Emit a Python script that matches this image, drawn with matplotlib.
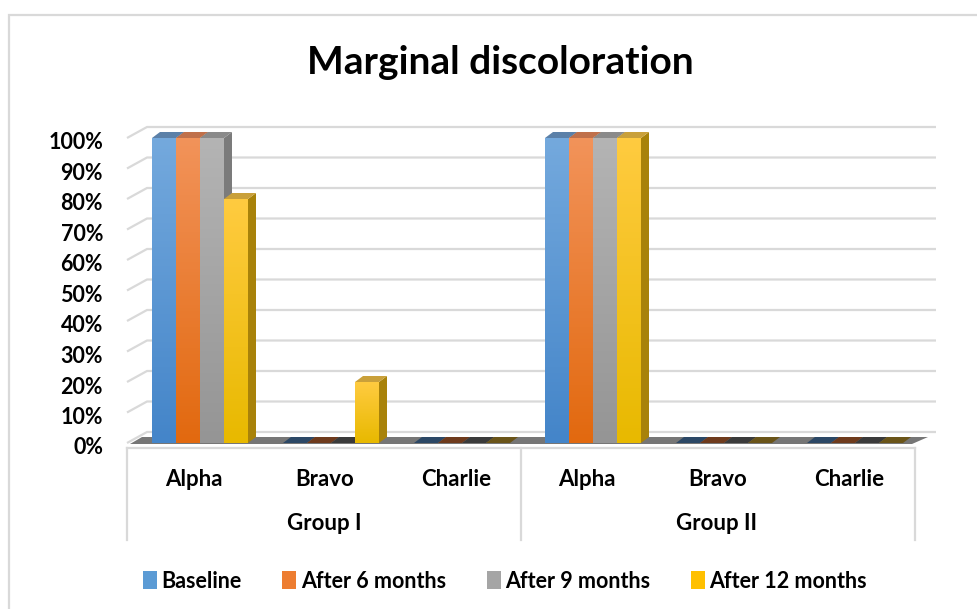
import numpy as np
import matplotlib
matplotlib.use("Agg")
import matplotlib.pyplot as plt
from matplotlib.patches import Polygon, Patch, Rectangle
from matplotlib.colors import LinearSegmentedColormap

plt.rcParams['font.family'] = ['Lato', 'DejaVu Sans']
plt.rcParams['font.weight'] = 'bold'

# data
categories = ["Alpha", "Bravo", "Charlie", "Alpha", "Bravo", "Charlie"]
groups = ["Group I", "Group II"]
series = ["Baseline", "After 6 months", "After 9 months", "After 12 months"]
baseline = [1.00, 0.00, 0.00, 1.00, 0.00, 0.00]
after_6 = [1.00, 0.00, 0.00, 1.00, 0.00, 0.00]
after_9 = [1.00, 0.00, 0.00, 1.00, 0.00, 0.00]
after_12 = [0.80, 0.20, 0.00, 1.00, 0.00, 0.00]
values = [baseline, after_6, after_9, after_12]
yticks = np.arange(0, 1.01, 0.1)

# colours: gradient top / bottom, side face, top face, flat (zero) top
col_top = ["#74a9dd", "#f2935a", "#b4b4b4", "#ffcb40"]
col_bot = ["#4485c9", "#e2690f", "#959595", "#e8b900"]
col_side = ["#3d6e9e", "#b5561a", "#7b7b7b", "#a8820a"]
col_cap = ["#5b80a8", "#c0704a", "#8a8a8a", "#c9a03a"]
col_flat = ["#2c4866", "#6e3a1c", "#3a3a3a", "#6a5418"]
legend_col = ["#5b9bd5", "#ed7d31", "#a5a5a5", "#ffc000"]

W, H = 978, 609
fig = plt.figure(figsize=(W / 100, H / 100), dpi=100)

# pixel geometry: category centre px = 200 + 131*i, value px = 443 - 305*v
px_per_x = 131.0
px_per_y = 305.0
x0_px, y0_px = 200.0, 443.0
L, R, T, B = 100, 960, 100, 460
ax = fig.add_axes([L / W, (H - B) / H, (R - L) / W, (B - T) / H])
ax.set_xlim((L - x0_px) / px_per_x, (R - x0_px) / px_per_x)
ax.set_ylim((y0_px - B) / px_per_y, (y0_px - T) / px_per_y)
ax.axis("off")

def dxu(px):
    return px / px_per_x

def dyu(px):
    return px / px_per_y

# back wall gridlines
gx0 = dxu(127 - x0_px)
for v in yticks:
    ax.plot([gx0, gx0 + dxu(20), dxu(936 - x0_px)],
            [v, v + dyu(11), v + dyu(11)],
            color="#d9d9d9", lw=1.6, zorder=1, solid_capstyle="butt")

# floor slab
fl, fr = dxu(130 - x0_px), dxu(912 - x0_px)
floor = Polygon([[fl, -dyu(1)], [fr, -dyu(1)], [fr + dxu(16), dyu(6)], [fl + dxu(12), dyu(6)]],
                closed=True, facecolor="#5e5e5e", edgecolor="none", alpha=0.85, zorder=2)
ax.add_patch(floor)

# bars
bw = 24.0 / px_per_x
x = np.arange(len(categories))
ddx, ddy = dxu(8), dyu(6)
grad = np.linspace(0, 1, 100).reshape(-1, 1)
for j, vals in enumerate(values):
    xs = x + (j - 1.5) * bw
    cmap = LinearSegmentedColormap.from_list("c%d" % j, [col_bot[j], col_top[j]])
    bars = ax.bar(xs, vals, width=bw, color=col_bot[j], edgecolor="none", zorder=5 + j)
    for xi, v, bar in zip(xs, vals, bars):
        xl, xr = xi - bw / 2, xi + bw / 2
        if v > 0:
            im = ax.imshow(grad, cmap=cmap, origin="lower", aspect="auto",
                           extent=[xl, xr, 0, v], zorder=5 + j + 0.1)
            im.set_clip_path(bar)
            side = Polygon([[xr, 0], [xr + ddx, ddy], [xr + ddx, v + ddy], [xr, v]],
                           closed=True, facecolor=col_side[j], edgecolor="none", zorder=4 + j)
            cap = Polygon([[xl, v], [xr, v], [xr + ddx, v + ddy], [xl + ddx, v + ddy]],
                          closed=True, facecolor=col_cap[j], edgecolor="none", zorder=4 + j)
            ax.add_patch(side)
            ax.add_patch(cap)
        else:
            flat = Polygon([[xl, 0], [xr, 0], [xr + ddx, ddy], [xl + ddx, ddy]],
                           closed=True, facecolor=col_flat[j], edgecolor="none", zorder=4 + j)
            ax.add_patch(flat)

# y tick labels
for v in yticks:
    ax.text(dxu(103 - x0_px), v - dyu(5), "%d%%" % round(v * 100), ha="right", va="center",
            fontsize=15.5, fontweight="bold", color="black", clip_on=False)

# category axis box (pixel coordinates)
def fx(px):
    return px / W

def fy(px):
    return 1 - px / H

line_kw = dict(color="#d9d9d9", lw=1.6, transform=fig.transFigure)
fig.add_artist(plt.Line2D([fx(127), fx(915)], [fy(448), fy(448)], **line_kw))
for xv in [127, 521, 915]:
    fig.add_artist(plt.Line2D([fx(xv), fx(xv)], [fy(448), fy(540)], **line_kw))

for i, c in enumerate(categories):
    fig.text(fx(x0_px + px_per_x * i - 6), fy(479), c, ha="center", va="center",
             fontsize=16, fontweight="bold")
for g, c in enumerate(groups):
    fig.text(fx(324 + 393 * g), fy(524), c, ha="center", va="center",
             fontsize=16, fontweight="bold")

# outer chart border
fig.add_artist(Rectangle((fx(9), fy(615)), 1.0, fy(15) - fy(615), transform=fig.transFigure,
                         facecolor="none", edgecolor="#d9d9d9", lw=1.6))

# title
fig.text(fx(500), fy(62), "Marginal discoloration", ha="center", va="center",
         fontsize=28, fontweight="bold")

# legend
handles = [Patch(facecolor=c, edgecolor="none") for c in legend_col]
fig.legend(handles, series, loc="center", bbox_to_anchor=(fx(505), fy(581)), ncol=4,
           frameon=False, handlelength=0.65, handleheight=0.95, handletextpad=0.2,
           columnspacing=1.9, prop=dict(size=15.5, weight="bold"))

fig.savefig("out.png", dpi=100)
